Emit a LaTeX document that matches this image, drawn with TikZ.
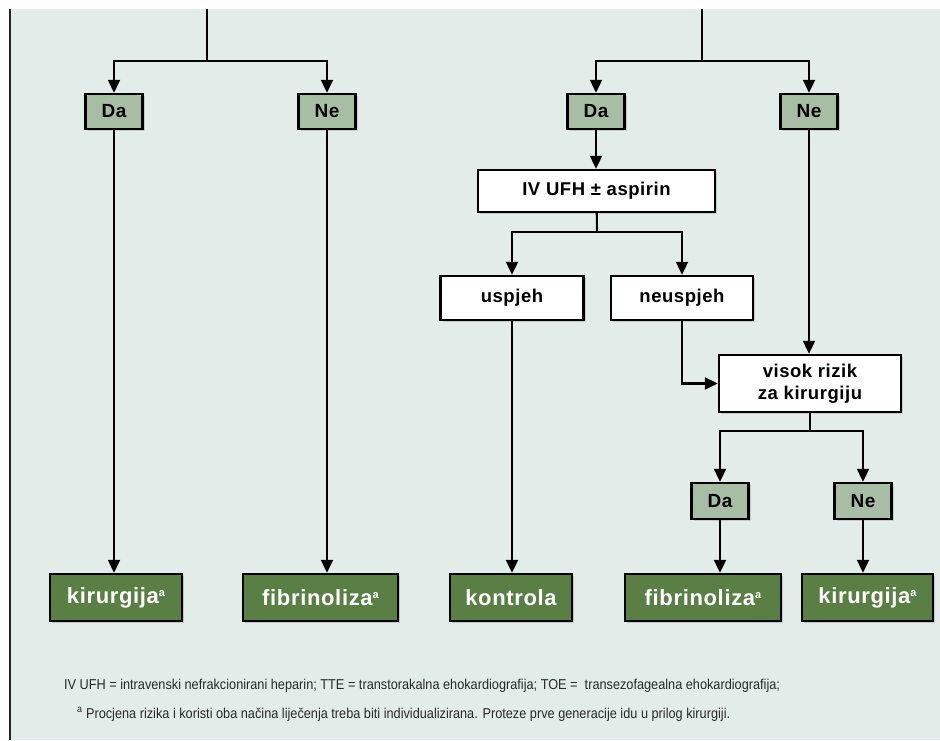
\documentclass[tikz,border=0pt]{standalone}
\usepackage{fontspec}
\usepackage{tikz}
\usetikzlibrary{arrows.meta,calc,shadows}
\newfontfamily\boxfont[LetterSpace=3]{Liberation Sans}
\newfontfamily\notefont[FakeStretch=0.89]{Liberation Sans}
\definecolor{bgcol}{RGB}{226,237,234}
\definecolor{lightbox}{RGB}{168,190,164}
\definecolor{darkbox}{RGB}{90,127,68}
\definecolor{notecol}{RGB}{40,40,40}
\newcommand{\supa}{{\fontsize{11}{11}\selectfont\raisebox{7pt}{a}}}

\begin{document}
\begin{tikzpicture}[x=1pt, y=-1pt, >={Triangle[length=13pt,width=12pt]}, line width=2.1pt,
  yesno/.style={draw, line width=2.4pt, fill=lightbox, minimum width=57pt, minimum height=35pt, inner sep=0pt,
    font=\boxfont\bfseries\fontsize{19}{22}\selectfont, drop shadow={shadow xshift=2pt, shadow yshift=-2pt, opacity=0.3}},
  stepbox/.style={draw, line width=2.4pt, fill=white, inner sep=0pt, align=center,
    font=\boxfont\bfseries\fontsize{18.5}{22}\selectfont, drop shadow={shadow xshift=2pt, shadow yshift=-2pt, opacity=0.3}},
  outcome/.style={draw, line width=2.4pt, fill=darkbox, text=white, minimum height=47pt, inner sep=0pt,
    font=\boxfont\bfseries\fontsize{22}{24}\selectfont, drop shadow={shadow xshift=2pt, shadow yshift=-2pt, opacity=0.35}}]
  \useasboundingbox (0,0) rectangle (940,740);
  \fill[bgcol] (11,9) rectangle (940,740);
  \draw[line width=2.5pt, black!85] (10,9) -- (10,740);
  %coordinates
  \coordinate (TopL) at (207,9);
  \coordinate (SplitL) at (207,61);
  \coordinate (TopR) at (702,9);
  \coordinate (SplitR) at (702,61);
  \coordinate (SplitU) at (597,232);
  \coordinate (SplitZ) at (810,431);
  % left tree
  \node[yesno](DaL) at (114,111.5){Da};
  \node[yesno](NeL) at (327,111.5){Ne};
  \node[outcome, minimum width=132pt](KirL) at (116,597.5){kirurgija\supa};
  \node[outcome, minimum width=155pt](FibL) at (320.5,597.5){fibrinoliza\supa};
  % right tree
  \node[yesno](DaR) at (596,111.5){Da};
  \node[yesno](NeR) at (809,111.5){Ne};
  \node[stepbox, minimum width=237pt, minimum height=42pt](UFH) at (596.5,191){IV UFH ± aspirin};
  \node[stepbox, minimum width=143pt, minimum height=44pt](Usp) at (512,298){uspjeh};
  \node[stepbox, minimum width=142pt, minimum height=44pt](Neusp) at (682,298){neuspjeh};
  \node[stepbox, minimum width=182pt, minimum height=57pt](Rizik) at (810,383.5){visok rizik\\za kirurgiju};
  \node[yesno, minimum height=36pt](DaR2) at (720,501){Da};
  \node[yesno, minimum height=36pt](NeR2) at (863,501){Ne};
  \node[outcome, minimum width=122pt](Kontrola) at (511,597.5){kontrola};
  \node[outcome, minimum width=156pt](FibR) at (703,597.5){fibrinoliza\supa};
  \node[outcome, minimum width=131pt](KirR) at (867.5,597.5){kirurgija\supa};
  % Edges
  \draw (TopL) -- (SplitL);
  \draw[->] (SplitL) -| (DaL);
  \draw[->] (SplitL) -| (NeL);
  \draw[->] (DaL) -- (DaL |- KirL.north);
  \draw[->] (NeL) -- (NeL |- FibL.north);
  \draw (TopR) -- (SplitR);
  \draw[->] (SplitR) -| (DaR);
  \draw[->] (SplitR) -| (NeR);
  \draw[->] (DaR) -- (DaR |- UFH.north);
  \draw (UFH) -- (SplitU);
  \draw[->] (SplitU) -| (Usp);
  \draw[->] (SplitU) -| (Neusp);
  \draw[->] (NeR) -- (NeR |- Rizik.north);
  \draw[->] (Neusp) |- (Rizik);
  \draw (Rizik) -- (SplitZ);
  \draw[->] (SplitZ) -| (DaR2);
  \draw[->] (SplitZ) -| (NeR2);
  \draw[->] (Usp) -- (Usp |- Kontrola.north);
  \draw[->] (DaR2) -- (DaR2 |- FibR.north);
  \draw[->] (NeR2) -- (NeR2 |- KirR.north);
  % notes
  \node[anchor=base west, inner sep=0pt, text=notecol, font=\notefont\fontsize{14.3}{16}\selectfont](NoteA) at (63,689){IV UFH = intravenski nefrakcionirani heparin; TTE = transtorakalna ehokardiografija; TOE =~ transezofagealna ehokardiografija;};
  \node[anchor=base west, inner sep=0pt, text=notecol, font=\notefont\fontsize{14.3}{16}\selectfont](NoteB) at (76,718){\textsuperscript{a} Procjena rizika i koristi oba načina liječenja treba biti individualizirana. Proteze prve generacije idu u prilog kirurgiji.};
\end{tikzpicture}
\end{document}
